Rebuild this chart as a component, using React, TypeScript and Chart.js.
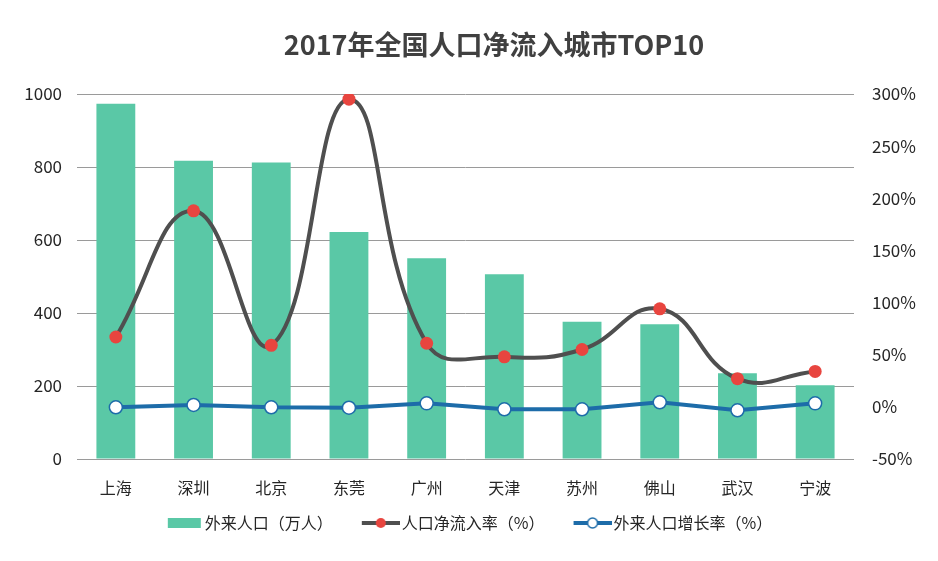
import React, { useEffect, useRef } from 'react';
import { Chart, registerables } from 'chart.js';

Chart.register(...registerables);

const titleText = '2017年全国人口净流入城市TOP10';
const cities = ['上海', '深圳', '北京', '东莞', '广州', '天津', '苏州', '佛山', '武汉', '宁波'];
const migrantPopulation = [973, 817, 812, 622, 550, 506, 376, 369, 235, 202];
const netInflowRate = [67, 188, 59, 295, 61, 48, 55, 94, 27, 34];
const migrantGrowthRate = [-0.4, 1.8, -0.4, -0.8, 3.4, -2.3, -2.3, 4.4, -3.3, 3.4];
const seriesNames = ['外来人口（万人）', '人口净流入率（%）', '外来人口增长率（%）'];

const FONT = '"Noto Sans CJK SC", "Noto Sans", sans-serif';
const TEAL = '#5AC8A6';
const RED = '#E8453F';
const GRAY = '#4F4F4F';
const BLUE = '#1D6CA9';

const BOX_W = 51;
const ICON_W = BOX_W + 12;
const ICON_H = 16;

function makeBarIcon(): HTMLCanvasElement {
  const c = document.createElement('canvas');
  c.width = ICON_W;
  c.height = ICON_H;
  const ctx = c.getContext('2d')!;
  ctx.fillStyle = TEAL;
  ctx.fillRect(ICON_W - 35, 3, 33, 10);
  return c;
}

function makeLineIcon(lineColor: string, dotFill: string, dotStroke: string | null): HTMLCanvasElement {
  const c = document.createElement('canvas');
  c.width = ICON_W;
  c.height = ICON_H;
  const ctx = c.getContext('2d')!;
  ctx.strokeStyle = lineColor;
  ctx.lineWidth = 4;
  ctx.beginPath();
  ctx.moveTo(ICON_W - 38, 8);
  ctx.lineTo(ICON_W, 8);
  ctx.stroke();
  ctx.beginPath();
  ctx.arc(ICON_W - 19, 8, 5, 0, Math.PI * 2);
  ctx.fillStyle = dotFill;
  ctx.fill();
  if (dotStroke) {
    ctx.lineWidth = 1.5;
    ctx.strokeStyle = dotStroke;
    ctx.stroke();
  }
  return c;
}

const titlePlugin = {
  id: 'customTitle',
  afterDraw(chart: any) {
    const ctx = chart.ctx;
    ctx.save();
    ctx.font = `bold 27px ${FONT}`;
    ctx.fillStyle = '#404040';
    ctx.textAlign = 'center';
    ctx.textBaseline = 'middle';
    ctx.fillText(titleText, 494, 45);
    ctx.restore();
  },
};

export default function App() {
  const canvasRef = useRef<HTMLCanvasElement | null>(null);

  useEffect(() => {
    if (!canvasRef.current) return;
    const icons = [
      makeBarIcon(),
      makeLineIcon(GRAY, RED, null),
      makeLineIcon(BLUE, '#FFFFFF', BLUE),
    ];
    const chart = new Chart(canvasRef.current, {
      type: 'bar',
      data: {
        labels: cities,
        datasets: [
          {
            type: 'bar',
            label: seriesNames[0],
            data: migrantPopulation,
            backgroundColor: TEAL,
            borderWidth: 0,
            yAxisID: 'y',
            order: 3,
            barPercentage: 0.5,
            categoryPercentage: 1,
          },
          {
            type: 'line',
            label: seriesNames[1],
            data: netInflowRate,
            borderColor: GRAY,
            borderWidth: 4,
            tension: 0.45,
            pointRadius: 6.5,
            pointBackgroundColor: RED,
            pointBorderWidth: 0,
            pointBorderColor: RED,
            yAxisID: 'y1',
            order: 2,
          },
          {
            type: 'line',
            label: seriesNames[2],
            data: migrantGrowthRate,
            borderColor: BLUE,
            borderWidth: 4,
            tension: 0,
            pointRadius: 6.5,
            pointBackgroundColor: '#FFFFFF',
            pointBorderColor: BLUE,
            pointBorderWidth: 1.5,
            yAxisID: 'y1',
            order: 1,
          },
        ],
      } as any,
      options: {
        animation: false,
        responsive: true,
        maintainAspectRatio: false,
        layout: { padding: { top: 94, bottom: 20, left: 0, right: 20 } },
        plugins: {
          title: { display: false },
          tooltip: { enabled: false },
          legend: {
            display: true,
            position: 'bottom',
            labels: {
              usePointStyle: true,
              pointStyleWidth: BOX_W,
              padding: 10,
              color: '#262626',
              font: { size: 16, family: FONT },
              generateLabels: () =>
                seriesNames.map((name, i) => ({
                  text: name,
                  pointStyle: icons[i],
                  datasetIndex: i,
                  hidden: false,
                  fillStyle: 'transparent',
                  strokeStyle: 'transparent',
                  lineWidth: 0,
                  fontColor: '#262626',
                })),
            },
          },
        },
        scales: {
          x: {
            offset: true,
            grid: { display: false, drawTicks: false },
            border: { display: false },
            ticks: { color: '#262626', font: { size: 16, family: FONT }, padding: 19, maxRotation: 0 },
            afterFit: (scale: any) => {
              scale.height = 46;
            },
          },
          y: {
            position: 'left',
            min: 0,
            max: 1000,
            ticks: {
              stepSize: 200,
              color: '#262626',
              font: { size: 17, family: FONT },
              padding: 15,
              callback: (v: any) => String(v),
            },
            grid: { color: '#9A9A9A', lineWidth: 1, drawTicks: false },
            border: { display: false },
            afterFit: (scale: any) => {
              scale.width = 77;
            },
          },
          y1: {
            position: 'right',
            min: -50,
            max: 300,
            ticks: {
              stepSize: 50,
              color: '#262626',
              font: { size: 17, family: FONT },
              padding: 18,
              callback: (v: any) => `${v}%`,
            },
            grid: { display: false, drawOnChartArea: false, drawTicks: false },
            border: { display: false },
            afterFit: (scale: any) => {
              scale.width = 64;
            },
          },
        },
      } as any,
      plugins: [titlePlugin],
    });
    return () => chart.destroy();
  }, []);

  return (
    <div style={{ position: 'fixed', left: 0, top: 0, width: 938, height: 561, background: '#FFFFFF' }}>
      <canvas ref={canvasRef} />
    </div>
  );
}
